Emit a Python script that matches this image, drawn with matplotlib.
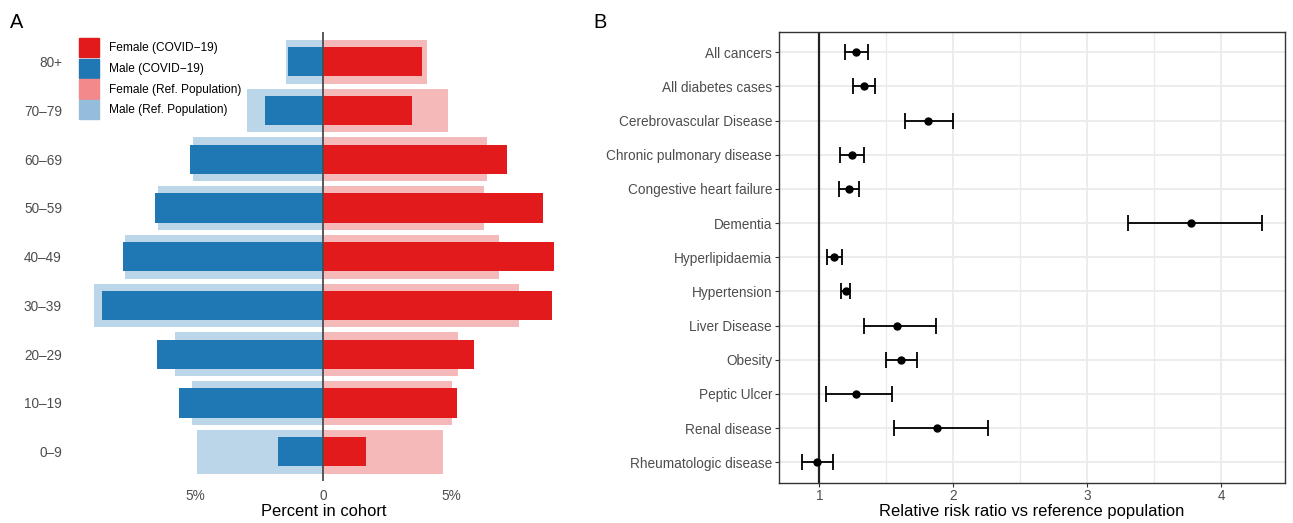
import numpy as np
import matplotlib.pyplot as plt
from matplotlib.patches import Patch

plt.rcParams['font.family'] = ['Liberation Sans', 'DejaVu Sans']

# Panel A: age pyramid (percent of cohort)
age_groups = ["0–9", "10–19", "20–29", "30–39", "40–49", "50–59", "60–69", "70–79", "80+"]
male_covid = [1.77, 5.66, 6.53, 8.66, 7.85, 6.61, 5.22, 2.29, 1.38]
female_covid = [1.68, 5.23, 5.89, 8.98, 9.04, 8.60, 7.22, 3.49, 3.88]
male_ref = [4.95, 5.14, 5.83, 9.00, 7.78, 6.48, 5.12, 2.98, 1.46]
female_ref = [4.70, 5.05, 5.29, 7.66, 6.90, 6.30, 6.43, 4.88, 4.07]

# Panel B: relative risk ratios with confidence intervals
conditions = ["All cancers", "All diabetes cases", "Cerebrovascular Disease",
              "Chronic pulmonary disease", "Congestive heart failure", "Dementia",
              "Hyperlipidaemia", "Hypertension", "Liver Disease", "Obesity",
              "Peptic Ulcer", "Renal disease", "Rheumatologic disease"]
rr = [1.274, 1.331, 1.813, 1.241, 1.221, 3.771, 1.112, 1.199, 1.577, 1.612, 1.274, 1.878, 0.983]
rr_lo = [1.194, 1.251, 1.642, 1.157, 1.149, 3.303, 1.057, 1.164, 1.333, 1.500, 1.050, 1.560, 0.871]
rr_hi = [1.361, 1.413, 1.998, 1.336, 1.299, 4.306, 1.167, 1.229, 1.871, 1.729, 1.545, 2.261, 1.102]

RED = "#e31a1c"
BLUE = "#1f78b4"
RED_REF = "#f6b9ba"
BLUE_REF = "#bcd6e9"
RED_REF_KEY = "#f4898c"
BLUE_REF_KEY = "#94bddc"
TICK_COL = "#4d4d4d"

W, H = 1293, 523
fig = plt.figure(figsize=(W / 100, H / 100), dpi=100)


def px_axes(x0, x1, y0, y1):
    # pixel box (top-left origin) -> figure axes
    return fig.add_axes([x0 / W, 1 - y1 / H, (x1 - x0) / W, (y1 - y0) / H])


# ---- Panel A ----
axA = px_axes(81, 565.6, 32.45, 481)
y = np.arange(len(age_groups))
axA.barh(y, -np.array(male_ref), height=0.9, color=BLUE_REF, linewidth=0)
axA.barh(y, female_ref, height=0.9, color=RED_REF, linewidth=0)
axA.barh(y, -np.array(male_covid), height=0.6, color=BLUE, linewidth=0)
axA.barh(y, female_covid, height=0.6, color=RED, linewidth=0)
axA.axvline(0, color="#4d4d4d", lw=1.3)
axA.set_xlim(-9.5, 9.5)
axA.set_ylim(-0.6, len(age_groups) - 0.4)
axA.set_yticks(y)
axA.set_yticklabels(age_groups)
axA.set_xticks([-5, 0, 5])
axA.set_xticklabels(["5%", "0", "5%"])
axA.tick_params(axis="y", length=0, pad=13.7, labelsize=9.8, labelcolor=TICK_COL)
axA.tick_params(axis="x", length=0, pad=5.8, labelsize=9.8, labelcolor=TICK_COL)
for s in axA.spines.values():
    s.set_visible(False)
axA.set_xlabel("Percent in cohort", fontsize=11.9, labelpad=1)

handles = [Patch(color=RED), Patch(color=BLUE), Patch(color=RED_REF_KEY), Patch(color=BLUE_REF_KEY)]
labels = ["Female (COVID−19)", "Male (COVID−19)", "Female (Ref. Population)", "Male (Ref. Population)"]
fig.legend(handles, labels, loc="upper left", bbox_to_anchor=(79 / W, 1 - 38 / H),
           frameon=False, fontsize=8.6, handlelength=1.7, handleheight=2.1,
           labelspacing=0.12, handletextpad=0.85, borderpad=0, borderaxespad=0)

# ---- Panel B ----
axB = px_axes(779.3, 1285, 31.7, 482.7)
yc = np.arange(len(conditions))
axB.set_xlim(0.7015, 4.475)
axB.set_ylim(len(conditions) - 0.4, -0.6)
axB.set_xticks([1, 2, 3, 4])
axB.set_xticks([1.5, 2.5, 3.5], minor=True)
axB.set_yticks(yc)
axB.set_yticklabels(conditions)
axB.grid(True, which="major", color="#ebebeb", lw=1.3)
axB.grid(True, which="minor", axis="x", color="#ebebeb", lw=1.0)
axB.set_axisbelow(True)
axB.axvline(1, color="#222222", lw=1.6, zorder=2)
err = [np.array(rr) - np.array(rr_lo), np.array(rr_hi) - np.array(rr)]
axB.errorbar(rr, yc, xerr=err, fmt="o", color="black", ms=5, capsize=6,
             elinewidth=1.3, capthick=1.3, zorder=3)
for s in axB.spines.values():
    s.set_color("#333333")
    s.set_linewidth(1.0)
axB.tick_params(axis="both", which="major", length=2.75, width=0.8, color="#333333",
                labelsize=9.8, labelcolor=TICK_COL)
axB.tick_params(axis="x", pad=1.8)
axB.tick_params(axis="y", pad=2.5)
axB.tick_params(which="minor", length=0)
axB.set_xlabel("Relative risk ratio vs reference population", fontsize=11.9, labelpad=1)

fig.text(10 / W, 1 - 22 / H, "A", fontsize=14.4, va="center", ha="left")
fig.text(593 / W, 1 - 22 / H, "B", fontsize=14.4, va="center", ha="left")

fig.savefig("out.png", dpi=100)
